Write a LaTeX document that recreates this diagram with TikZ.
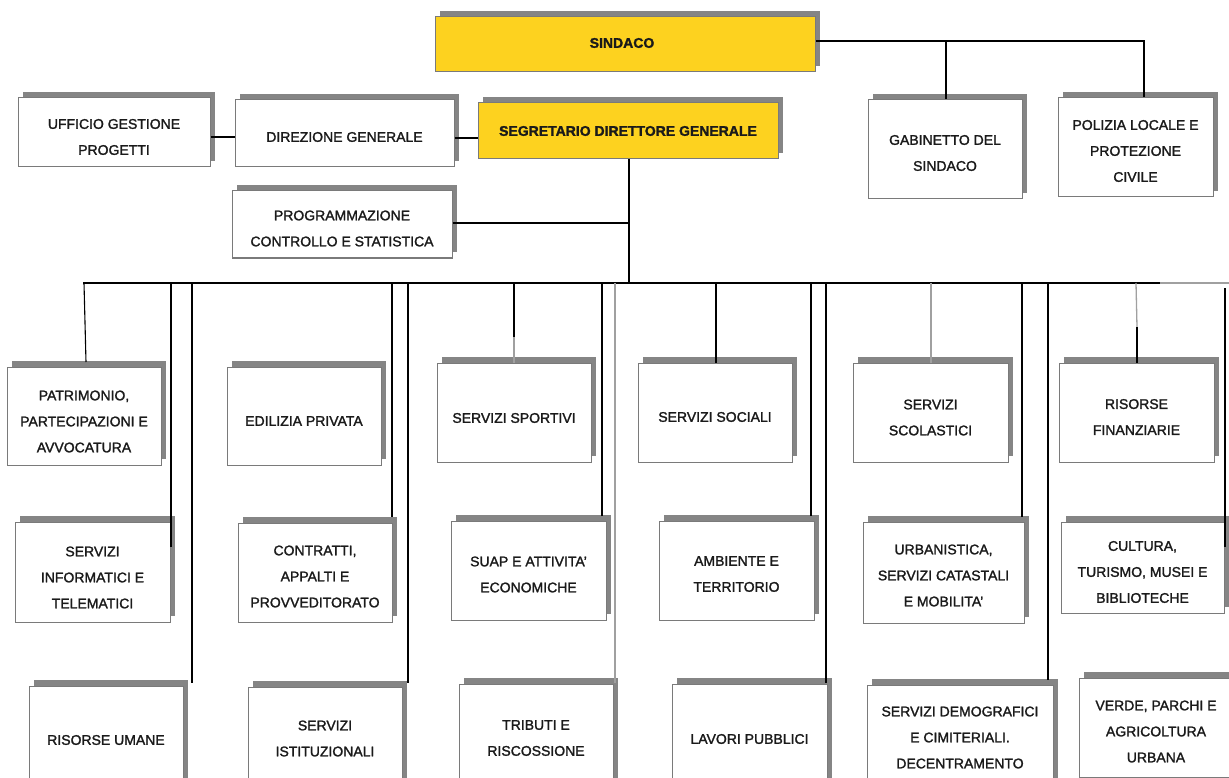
\documentclass[tikz,border=0pt]{standalone}
\usepackage{fontspec}
\setmainfont{Liberation Sans}[FakeBold=1.6]
\usetikzlibrary{shadows}
\definecolor{gold}{HTML}{FDD21F}
\definecolor{shgray}{HTML}{858585}
\definecolor{bordergray}{HTML}{7A7A7A}
\definecolor{linegray}{HTML}{A0A0A0}
\definecolor{txt}{HTML}{1A1A1A}
\tikzset{
  box/.style={draw=bordergray, line width=1pt, fill=white, inner sep=0pt,
    drop shadow={shadow xshift=5pt, shadow yshift=6pt, opacity=1, fill=shgray}},
  goldbox/.style={box, fill=gold},
  lbl/.style={align=center, text=txt, font=\fontsize{14pt}{26pt}\selectfont, inner sep=0pt},
  blbl/.style={lbl, font=\fontsize{14pt}{26pt}\selectfont\bfseries},
  conn/.style={line width=1.1pt, black},
  gconn/.style={line width=1.3pt, linegray},
}
\begin{document}
\begin{tikzpicture}[x=1pt,y=1pt]
\useasboundingbox (0,0) rectangle (1229,-778);
\clip (0,0) rectangle (1229,-778);
\fill[white] (0,0) rectangle (1229,-778);

% top
\node[goldbox, minimum width=380pt, minimum height=55pt] (sindaco) at (625,-44.5) {};
\node[blbl] (tsindaco) at (622,-43) {SINDACO};
\node[goldbox, minimum width=300pt, minimum height=56pt] (segr) at (628,-131) {};
\node[blbl] (tsegr) at (628,-131) {SEGRETARIO DIRETTORE GENERALE};
\node[box, minimum width=192pt, minimum height=69pt] (uff) at (114,-132.5) {};
\node[lbl] (tuff) at (114,-137) {UFFICIO GESTIONE\\PROGETTI};
\node[box, minimum width=219pt, minimum height=67pt] (dir) at (344.5,-133.5) {};
\node[lbl] (tdir) at (344.5,-137) {DIREZIONE GENERALE};
\node[box, minimum width=220pt, minimum height=67pt] (prog) at (342,-224.5) {};
\node[lbl] (tprog) at (342,-228.5) {PROGRAMMAZIONE\\CONTROLLO E STATISTICA};
\node[box, minimum width=154pt, minimum height=99pt] (gab) at (945,-149.5) {};
\node[lbl] (tgab) at (945,-153) {GABINETTO DEL\\SINDACO};
\node[box, minimum width=155pt, minimum height=99pt] (pol) at (1135.5,-147.5) {};
\node[lbl] (tpol) at (1135.5,-151) {POLIZIA LOCALE E\\PROTEZIONE\\CIVILE};

% row 2
\node[box, minimum width=154pt, minimum height=98pt] (patr) at (84,-416) {};
\node[lbl] (tpatr) at (84,-421.5) {PATRIMONIO,\\PARTECIPAZIONI E\\AVVOCATURA};
\node[box, minimum width=154pt, minimum height=98pt] (edil) at (304,-416) {};
\node[lbl] (tedil) at (304,-421) {EDILIZIA PRIVATA};
\node[box, minimum width=154pt, minimum height=99pt] (sport) at (514,-412.5) {};
\node[lbl] (tsport) at (514,-418) {SERVIZI SPORTIVI};
\node[box, minimum width=154pt, minimum height=99pt] (soc) at (715,-412.5) {};
\node[lbl] (tsoc) at (715,-417) {SERVIZI SOCIALI};
\node[box, minimum width=155pt, minimum height=99pt] (scol) at (930.5,-412.5) {};
\node[lbl] (tscol) at (930.5,-417.5) {SERVIZI\\SCOLASTICI};
\node[box, minimum width=155pt, minimum height=99pt] (fin) at (1136.5,-412.5) {};
\node[lbl] (tfin) at (1136.5,-417) {RISORSE\\FINANZIARIE};

% row 3
\node[box, minimum width=155pt, minimum height=100pt] (info) at (92.5,-572) {};
\node[lbl] (tinfo) at (92.5,-577.5) {SERVIZI\\INFORMATICI E\\TELEMATICI};
\node[box, minimum width=154pt, minimum height=99pt] (contr) at (315,-572.5) {};
\node[lbl] (tcontr) at (315,-576.5) {CONTRATTI,\\APPALTI E\\PROVVEDITORATO};
\node[box, minimum width=155pt, minimum height=99pt] (suap) at (528.5,-570.5) {};
\node[lbl] (tsuap) at (528.5,-574.5) {SUAP E ATTIVITA'\\ECONOMICHE};
\node[box, minimum width=155pt, minimum height=99pt] (amb) at (736.5,-570.5) {};
\node[lbl] (tamb) at (736.5,-574) {AMBIENTE E\\TERRITORIO};
\node[box, minimum width=161pt, minimum height=101pt] (urb) at (943.5,-572.5) {};
\node[lbl] (turb) at (943.5,-575.5) {URBANISTICA,\\SERVIZI CATASTALI\\E MOBILITA'};
\node[box, minimum width=163pt, minimum height=91pt] (cult) at (1142.5,-567.5) {};
\node[lbl] (tcult) at (1142.5,-572) {CULTURA,\\TURISMO, MUSEI E\\BIBLIOTECHE};

% row 4
\node[box, minimum width=154pt, minimum height=108pt] (ris) at (106,-740) {};
\node[lbl] (tris) at (106,-740) {RISORSE UMANE};
\node[box, minimum width=154pt, minimum height=104pt] (ist) at (325,-739) {};
\node[lbl] (tist) at (325,-738.5) {SERVIZI\\ISTITUZIONALI};
\node[box, minimum width=154pt, minimum height=108pt] (trib) at (536,-738) {};
\node[lbl] (ttrib) at (536,-738) {TRIBUTI E\\RISCOSSIONE};
\node[box, minimum width=155pt, minimum height=110pt] (lav) at (749.5,-739) {};
\node[lbl] (tlav) at (749.5,-739) {LAVORI PUBBLICI};
\node[box, minimum width=186pt, minimum height=104pt] (demo) at (960,-737) {};
\node[lbl] (tdemo) at (960,-737.5) {SERVIZI DEMOGRAFICI\\E CIMITERIALI.\\DECENTRAMENTO};
\node[box, minimum width=154pt, minimum height=99pt] (verde) at (1156,-727.5) {};
\node[lbl] (tverde) at (1156,-731.5) {VERDE, PARCHI E\\AGRICOLTURA\\URBANA};

% connectors top
\coordinate (sk) at (1144,-41);
\coordinate (sg) at (946,-41);
\draw[conn] (sindaco.east |- sk) -- (sk) -- (sk |- pol.north);
\draw[conn] (sg) -- (sg |- gab.north);
\draw[conn] (uff.east |- 0,-137) -- (dir.west |- 0,-137);
\draw[conn] (dir.east |- 0,-138) -- (segr.west |- 0,-138);
\coordinate (trunk) at (629,-283);
\draw[conn] (trunk |- segr.south) -- (trunk);
\draw[conn] (prog.east |- 0,-223) -- (629,-223);

% bus
\coordinate (busL) at (83,-283);
\coordinate (busM) at (1160,-283);
\coordinate (busR) at (1229,-283);
\draw[conn] (busL) -- (busM);
\draw[gconn] (busM) -- (busR);

% drops
\coordinate (d1) at (84,-283);  \draw[conn] (d1) -- (86,-362);
\coordinate (d2) at (171,-283); \draw[conn] (d2) -- (171,-547);
\coordinate (d3) at (192,-283); \draw[conn] (d3) -- (192,-683);
\coordinate (d4) at (392,-283); \draw[conn] (d4) -- (392,-517);
\coordinate (d5) at (408,-283); \draw[conn] (d5) -- (408,-683);
\coordinate (d6) at (514,-283); \coordinate (d6m) at (514,-337);
\draw[conn] (d6) -- (d6m); \draw[gconn] (d6m) -- (d6 |- sport.north);
\coordinate (d7) at (602,-283); \draw[conn] (d7) -- (602,-516);
\coordinate (d8) at (615,-283); \draw[gconn] (d8) -- (615,-683);
\coordinate (d9) at (716,-283); \draw[conn] (d9) -- (d9 |- soc.north);
\coordinate (d10) at (811,-283); \draw[conn] (d10) -- (811,-516);
\coordinate (d11) at (826,-283); \draw[conn] (d11) -- (826,-683);
\coordinate (d12) at (931,-283); \draw[gconn] (d12) -- (d12 |- scol.north);
\coordinate (d13) at (1022,-283); \draw[conn] (d13) -- (1022,-517);
\coordinate (d14) at (1048,-283); \draw[conn] (d14) -- (1048,-680);
\coordinate (d15) at (1136,-283); \coordinate (d15m) at (1137,-327);
\draw[gconn] (d15) -- (d15m); \draw[conn] (d15m) -- (d15m |- fin.north);
\coordinate (d16) at (1225,-288); \draw[conn] (d16) -- (1225,-547);
\end{tikzpicture}
\end{document}
